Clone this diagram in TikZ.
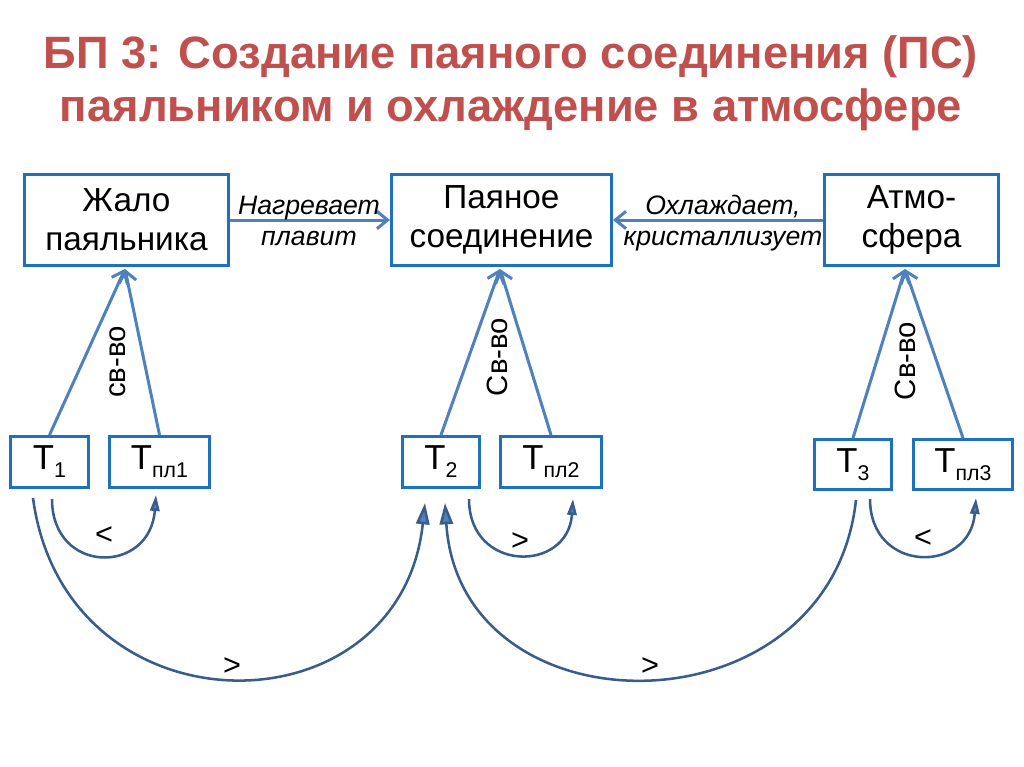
\documentclass[tikz,border=0pt]{standalone}
\usepackage{fontspec}
\setmainfont{Liberation Sans}
\usetikzlibrary{arrows.meta,calc}
\definecolor{titlered}{RGB}{192,80,77}
\definecolor{boxblue}{RGB}{31,113,190}
\definecolor{conblue}{RGB}{79,129,189}
\definecolor{arcblue}{RGB}{56,93,138}
\newdimen\pxu \pxu=0.75pt
\newcommand{\Tlab}[1]{T\raisebox{-6pt}{\fontsize{16}{16}\selectfont #1}}
\tikzset{
  bigbox/.style={draw=boxblue, line width=2.25pt, minimum height=91\pxu, align=center,
    inner sep=0pt, font=\fontsize{25}{29.5}\selectfont},
  tbox/.style={draw=boxblue, line width=2.25pt, minimum height=51\pxu, inner sep=0pt,
    font=\fontsize{26}{26}\selectfont},
  con/.style={draw=conblue, line width=2.25pt, -{Straight Barb[length=8pt,width=13pt]}},
  arcs/.style={draw=arcblue, line width=1.9pt, -{Triangle[length=12pt,width=7pt,fill=conblue]}},
  arcb/.style={draw=arcblue, line width=1.9pt, -{Triangle[length=16pt,width=10pt,fill=conblue]}},
  lbl/.style={font=\fontsize{20}{23}\selectfont\itshape, align=center, inner sep=0pt},
  rel/.style={font=\fontsize{23}{23}\selectfont, inner sep=0pt},
  prop/.style={font=\fontsize{22}{22}\selectfont, rotate=90, inner sep=0pt},
  ttl/.style={font=\fontsize{34}{34}\selectfont\bfseries, text=titlered, anchor=base, inner sep=0pt}
}
\begin{document}
\begin{tikzpicture}[x=0.75pt,y=-0.75pt]
\useasboundingbox (0,0) rectangle (1024,767);
\fill[white] (0,0) rectangle (1024,767);
% title
\node[ttl] (title1) at (511,69) {БП 3: Создание паяного соединения (ПС)};
\node[ttl] (title2) at (511,122) {паяльником и охлаждение в атмосфере};
% big boxes
\node[bigbox, minimum width=204\pxu] (jalo) at (126.5,220) {Жало\\паяльника};
\node[bigbox, minimum width=220\pxu] (ps) at (501.5,220) {Паяное\\соединение};
\node[bigbox, minimum width=174\pxu] (atm) at (911.5,220) {Атмо-\\сфера};
% temperature boxes
\node[tbox, minimum width=78\pxu] (t1) at (49.5,462) {\Tlab{1}};
\node[tbox, minimum width=100\pxu] (tp1) at (159.5,462) {\Tlab{пл1}};
\node[tbox, minimum width=77\pxu] (t2) at (441,462) {\Tlab{2}};
\node[tbox, minimum width=101\pxu] (tp2) at (551,462) {\Tlab{пл2}};
\node[tbox, minimum width=77\pxu, minimum height=50\pxu] (t3) at (853,464.5) {\Tlab{3}};
\node[tbox, minimum width=99\pxu, minimum height=50\pxu] (tp3) at (963,464.5) {\Tlab{пл3}};
% horizontal connectors
\draw[con] (jalo.east) -- (ps.west);
\draw[con] (atm.west) -- (ps.east);
\node[lbl] (heat) at (309,221) {Нагревает\\плавит};
\node[lbl] (cool) at (723,223) {Охлаждает,\\кристаллизует};
% property connectors
\draw[con] (t1.north) -- ($(jalo.south)+(-1.5,2)$);
\draw[con] (tp1.north) -- ($(jalo.south)+(-1.5,2)$);
\draw[con] (t2.north) -- ($(ps.south)+(-1.5,2)$);
\draw[con] (tp2.north) -- ($(ps.south)+(-1.5,2)$);
\draw[con] (t3.north) -- ($(atm.south)+(-6.5,2)$);
\draw[con] (tp3.north) -- ($(atm.south)+(-6.5,2)$);
\node[prop] (p1) at (118,362) {св-во};
\node[prop] (p2) at (497,357) {Св-во};
\node[prop] (p3) at (905,361) {Св-во};
% small arcs
\draw[arcs] ($(t1.south)+(2.5,10)$) .. controls (52,575) and (150,575) .. ($(tp1.south)+(-3.5,6)$);
\draw[arcs] ($(t2.south)+(28,10)$) .. controls (469,573) and (568,573) .. ($(tp2.south)+(22,10)$);
\draw[arcs] ($(t3.south)+(17,8)$) .. controls (870,574) and (970,574) .. ($(tp3.south)+(13,7)$);
\node[rel] (r1) at (104,536) {<};
\node[rel] (r2) at (520,542) {>};
\node[rel] (r3) at (923,539) {<};
% big arcs
\draw[arcb] ($(t1.south)+(-16.5,9)$) .. controls (65,737) and (400,737) .. ($(t2.south)+(-16,14)$);
\draw[arcb] ($(t3.south)+(3,9)$) .. controls (830,737) and (460,737) .. ($(t2.south)+(4,14)$);
\node[rel] (r4) at (232,667) {>};
\node[rel] (r5) at (650,667) {>};
\end{tikzpicture}
\end{document}
